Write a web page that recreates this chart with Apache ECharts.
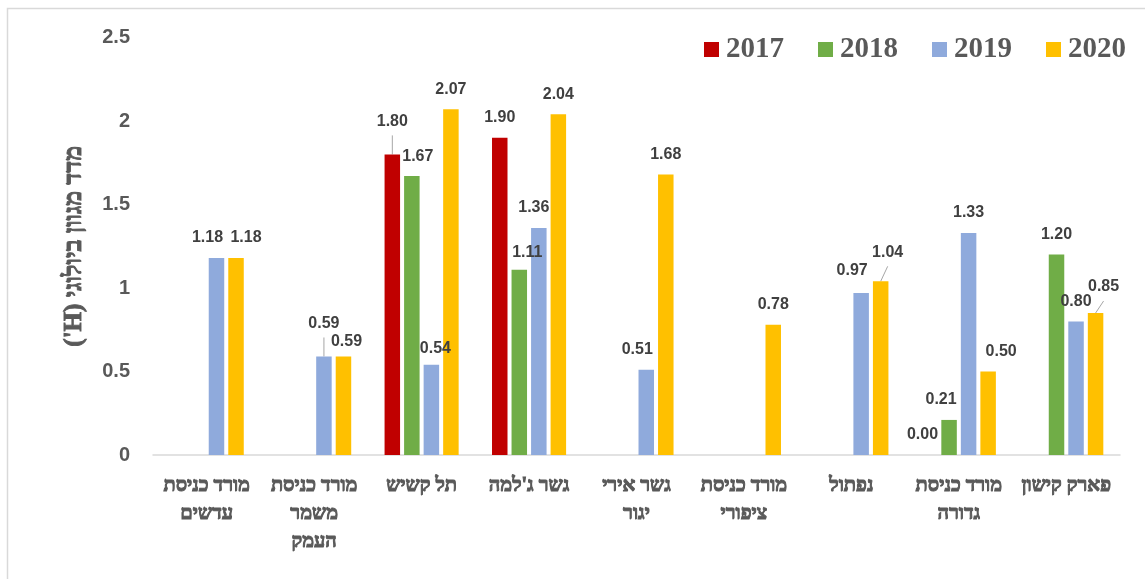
<!DOCTYPE html>
<html>
<head>
<meta charset="utf-8">
<script src="https://cdn.jsdelivr.net/npm/echarts@6/dist/echarts.min.js"></script>
<style>
  html, body { margin: 0; padding: 0; background: #fff; }
  #main { width: 1145px; height: 579px; }
</style>
</head>
<body>
<div id="main" dir="rtl"></div>
<script>
// sites, left to right as in the source figure
const sites = [
  'מורד כניסת\nעדשים',
  'מורד כניסת\nמשמר\nהעמק',
  'תל קשיש',
  'גשר ג\'למה',
  'גשר אירי\nיגור',
  'מורד כניסת\nציפורי',
  'נפתול',
  'מורד כניסת\nגדורה',
  'פארק קישון'
];
const years = ['2017', '2018', '2019', '2020'];
const h2017 = [null, null, 1.80, 1.90, null, null, null, 0.00, null];
const h2018 = [null, null, 1.67, 1.11, null, null, null, 0.21, 1.20];
const h2019 = [1.18, 0.59, 0.54, 1.36, 0.51, null, 0.97, 1.33, 0.80];
const h2020 = [1.18, 0.59, 2.07, 2.04, 1.68, 0.78, 1.04, 0.50, 0.85];
const yTicks = [0, 0.5, 1, 1.5, 2, 2.5];

const allVals = [h2017, h2018, h2019, h2020];
const colors = ['#C00000', '#70AD47', '#8FAADC', '#FFC000'];

const barW = 15.5;
const barGapPct = 0.26;
const lblDist = 12;
const lblSize = 16;

// hand-moved labels in the original (series index -> data index -> [dx, dy])
const nudge = {
  0: { 2: [0, -13], 7: [-7, 0] },
  1: { 2: [6, 0], 3: [8, 3], 7: [-8, 0] },
  2: { 0: [-9, 0], 1: [0, -13], 2: [4, 4], 3: [-5, 0], 4: [-9, 0], 6: [-9, -2] },
  3: { 0: [10, 0], 1: [3, 5], 6: [7, -9], 7: [13, 0], 8: [8, -6] }
};
// labels that got a leader line back to their bar
const leaders = [[0, 2], [2, 1], [3, 6], [3, 8]];

const serif = '"Liberation Serif", "DejaVu Serif", serif';
const sans = '"Liberation Sans", Arial, sans-serif';
const gray = '#595959';

function buildSeries(vals, si) {
  return {
    name: years[si],
    type: 'bar',
    barWidth: barW,
    barGap: (barGapPct * 100) + '%',
    itemStyle: { color: colors[si] },
    label: {
      show: true,
      position: 'top',
      distance: lblDist,
      formatter: p => p.value == null ? '' : p.value.toFixed(2),
      color: '#404040',
      fontFamily: sans,
      fontWeight: 'bold',
      fontSize: lblSize
    },
    data: vals.map((v, i) => {
      const item = { value: v };
      const n = nudge[si][i];
      if (n) item.label = { offset: n };
      return item;
    })
  };
}

const border = {
  id: 'frame',
  type: 'polyline',
  shape: { points: [[7.5, 600], [7.5, 8.5], [1160, 8.5]] },
  style: { stroke: '#d9d9d9', lineWidth: 1.5, fill: null },
  silent: true
};

const chart = echarts.init(document.getElementById('main'));
chart.setOption({
  backgroundColor: '#fff',
  animation: false,
  color: colors,
  grid: { left: 153, right: 25, top: 37.5, bottom: 124 },
  legend: {
    data: years,
    right: 14,
    top: 30,
    itemWidth: 15,
    itemHeight: 15,
    itemGap: 34,
    icon: 'rect',
    textStyle: {
      color: gray,
      fontFamily: serif,
      fontWeight: 'bold',
      fontSize: 29,
      padding: [0, 0, 0, 2]
    }
  },
  xAxis: {
    type: 'category',
    data: sites,
    axisLine: { lineStyle: { color: '#d9d9d9', width: 1.5 } },
    axisTick: { show: false },
    axisLabel: {
      interval: 0,
      margin: 17,
      color: gray,
      fontFamily: serif,
      fontWeight: 'bold',
      fontSize: 20,
      lineHeight: 28,
      textBorderColor: gray,
      textBorderWidth: 1
    }
  },
  yAxis: {
    type: 'value',
    min: yTicks[0],
    max: yTicks[yTicks.length - 1],
    interval: 0.5,
    name: 'מדד מגוון ביולוגי (H\')',
    nameLocation: 'middle',
    nameGap: 66,
    nameRotate: 90,
    nameTextStyle: {
      color: gray,
      fontFamily: serif,
      fontWeight: 'bold',
      fontSize: 25,
      textBorderColor: gray,
      textBorderWidth: 0.9
    },
    axisLine: { show: false },
    axisTick: { show: false },
    splitLine: { show: false },
    axisLabel: {
      margin: 23,
      color: gray,
      fontFamily: sans,
      fontWeight: 'bold',
      fontSize: 20
    }
  },
  graphic: [border],
  series: allVals.map(buildSeries)
});

// leader lines: from the top of the bar to just under its moved label
const step = barW * (1 + barGapPct);
const lines = leaders.map(([si, i]) => {
  const v = allVals[si][i];
  const p = chart.convertToPixel({ gridIndex: 0 }, [i, v]);
  const x = p[0] + (si - 1.5) * step;
  const n = nudge[si][i] || [0, 0];
  const lx = x + n[0];
  const ly = p[1] - lblDist - lblSize / 2 + n[1];
  return {
    type: 'line',
    shape: { x1: x, y1: p[1], x2: lx, y2: ly + 14 },
    style: { stroke: '#a6a6a6', lineWidth: 1 },
    silent: true
  };
});
chart.setOption({ graphic: [border].concat(lines) });
</script>
</body>
</html>
